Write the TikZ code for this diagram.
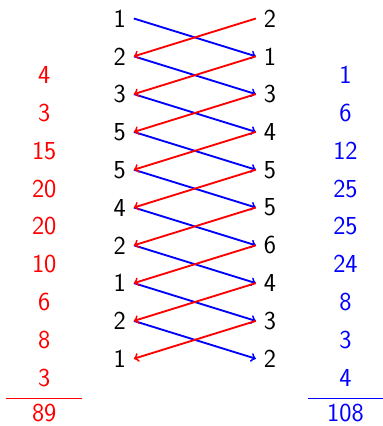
\documentclass[tikz,border=0pt]{standalone}
\usepackage{tikz}
\usetikzlibrary{positioning}

\begin{document}
\begin{tikzpicture}[
  font=\fontsize{19.5}{23}\selectfont\sffamily,
  node distance=4mm,
  num/.style={inner xsep=6pt, inner ysep=0pt, outer sep=0pt, minimum height=6mm},
  redn/.style={num, text=red},
  bluen/.style={num, text=blue},
  down/.style={->, blue, line width=1.4pt},
  up/.style={->, red, line width=1.4pt},
  sumline/.style={line width=0.7pt}
]
\useasboundingbox (0,0) rectangle (10.13,-11.27);

% the two columns
\node[num] (l1) at (3.17,-0.49) {1};
\node[num, below=of l1] (l2) {2};
\node[num, below=of l2] (l3) {3};
\node[num, below=of l3] (l4) {5};
\node[num, below=of l4] (l5) {5};
\node[num, below=of l5] (l6) {4};
\node[num, below=of l6] (l7) {2};
\node[num, below=of l7] (l8) {1};
\node[num, below=of l8] (l9) {2};
\node[num, below=of l9] (l10) {1};

\node[num] (r1) at (7.14,-0.49) {2};
\node[num, below=of r1] (r2) {1};
\node[num, below=of r2] (r3) {3};
\node[num, below=of r3] (r4) {4};
\node[num, below=of r4] (r5) {5};
\node[num, below=of r5] (r6) {5};
\node[num, below=of r6] (r7) {6};
\node[num, below=of r7] (r8) {4};
\node[num, below=of r8] (r9) {3};
\node[num, below=of r9] (r10) {2};

% products
\node[redn] (a1) at ([shift={(-2,-0.5)}]l2) {4};
\node[redn, below=of a1] (a2) {3};
\node[redn, below=of a2] (a3) {15};
\node[redn, below=of a3] (a4) {20};
\node[redn, below=of a4] (a5) {20};
\node[redn, below=of a5] (a6) {10};
\node[redn, below=of a6] (a7) {6};
\node[redn, below=of a7] (a8) {8};
\node[redn, below=of a8] (a9) {3};
\node[redn] (atot) at ([yshift=-0.94cm]a9) {89};

\node[bluen] (b1) at ([shift={(2,-0.5)}]r2) {1};
\node[bluen, below=of b1] (b2) {6};
\node[bluen, below=of b2] (b3) {12};
\node[bluen, below=of b3] (b4) {25};
\node[bluen, below=of b4] (b5) {25};
\node[bluen, below=of b5] (b6) {24};
\node[bluen, below=of b6] (b7) {8};
\node[bluen, below=of b7] (b8) {3};
\node[bluen, below=of b8] (b9) {4};
\node[bluen] (btot) at ([yshift=-0.94cm]b9) {108};

\draw[sumline, red] ([shift={(-1,0.1)}]atot.north) -- ([shift={(1,0.1)}]atot.north);
\draw[sumline, blue] ([shift={(-0.98,0.1)}]btot.north) -- ([shift={(0.98,0.1)}]btot.north);

% cross multiplication
\draw[down] (l1.east) -- (r2.west);
\draw[down] (l2.east) -- (r3.west);
\draw[down] (l3.east) -- (r4.west);
\draw[down] (l4.east) -- (r5.west);
\draw[down] (l5.east) -- (r6.west);
\draw[down] (l6.east) -- (r7.west);
\draw[down] (l7.east) -- (r8.west);
\draw[down] (l8.east) -- (r9.west);
\draw[down] (l9.east) -- (r10.west);

\draw[up] (r1.west) -- (l2.east);
\draw[up] (r2.west) -- (l3.east);
\draw[up] (r3.west) -- (l4.east);
\draw[up] (r4.west) -- (l5.east);
\draw[up] (r5.west) -- (l6.east);
\draw[up] (r6.west) -- (l7.east);
\draw[up] (r7.west) -- (l8.east);
\draw[up] (r8.west) -- (l9.east);
\draw[up] (r9.west) -- (l10.east);
\end{tikzpicture}
\end{document}
